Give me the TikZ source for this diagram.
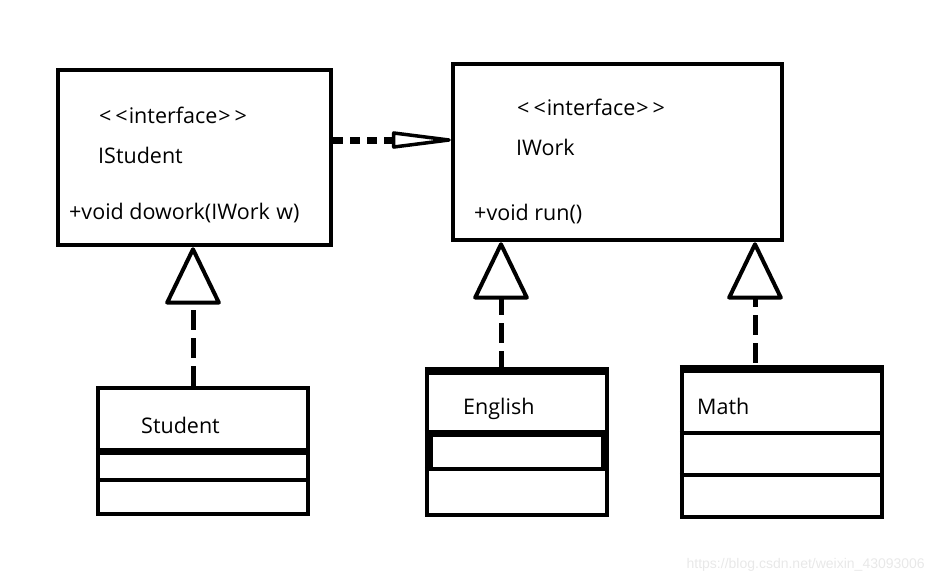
\documentclass[tikz,border=0pt]{standalone}
\usepackage{fontspec}
\setmainfont{Open Sans}
\usetikzlibrary{arrows.meta}
\begin{document}
\begin{tikzpicture}[x=1pt,y=-1pt,
  box/.style={draw, line width=4.5pt, inner sep=0pt, rectangle},
  txt/.style={anchor=base west, inner sep=0pt, font=\fontsize{21.5}{24}\selectfont},
  divider/.style={line width=4pt},
  thickdiv/.style={line width=7pt},
  realize/.style={line width=5pt, dash pattern=on 20pt off 8pt,
    -{Triangle[open, length=60pt, width=57pt, line width=4pt, round]}},
  depend/.style={line width=7pt, dash pattern=on 10pt off 7pt,
    -{Triangle[open, length=72pt, width=17pt, line width=3.5pt, round]}}
]
\useasboundingbox (0,0) rectangle (933,581);
% interfaces
\node[box, minimum width=273pt, minimum height=175pt] (istudent) at (194.5,157.5) {};
\node[box, minimum width=329pt, minimum height=176pt] (iwork) at (617.5,152) {};
\node[txt] (t1) at (99,123) {<\kern4pt<\kern1pt interface\kern1pt>\kern4pt>};
\node[txt] (t2) at (98,163) {IStudent};
\node[txt] (t3) at (69,219) {+void dowork(IWork\kern1pt\ w)};
\node[txt] (t4) at (517,115) {<\kern4pt<\kern1pt interface\kern1pt>\kern4pt>};
\node[txt] (t5) at (516,155) {IWork};
\node[txt] (t6) at (474,220) {+void run()};
% classes
\node[box, minimum width=210pt, minimum height=126pt] (student) at (203,451) {};
\node[box, minimum width=180pt, minimum height=142pt] (english) at (517,444) {};
\node[box, minimum width=200pt, minimum height=146pt] (math) at (782,444) {};
\draw[line width=7pt] (english.north west) -- (english.north east);
\draw[line width=7pt] (math.north west) -- (math.north east);
\node[txt] (t7) at (141,433) {Student};
\node[txt] (t8) at (463,414) {English};
\node[txt] (t9) at (697,414) {Math};
% compartments
\draw[thickdiv] (student.west |- 0,451) -- (student.east |- 0,451);
\draw[divider] (student.west |- 0,480) -- (student.east |- 0,480);
\draw[thickdiv] (english.west |- 0,433) -- (english.east |- 0,433);
\draw[divider] (english.west |- 0,469) -- (english.east |- 0,469);
\draw[line width=4pt] (431,433) -- (431,469);
\draw[line width=4pt] (603,433) -- (603,469);
\draw[divider] (math.west |- 0,433) -- (math.east |- 0,433);
\draw[divider] (math.west |- 0,475) -- (math.east |- 0,475);
% connectors
\draw[depend] (istudent.east |- 0,140) -- (iwork.west |- 0,140);
\draw[realize] ([xshift=-10pt]student.north) -- ([xshift=-10pt]student.north |- istudent.south);
\draw[realize] ([xshift=-16pt]english.north) -- ([xshift=-16pt]english.north |- iwork.south);
\draw[realize] ([xshift=-27pt,yshift=6pt]math.north) -- ([xshift=-27pt]math.north |- iwork.south);
% watermark
\node[anchor=base east, inner sep=0pt, text=gray!18, font=\fontspec{Liberation Sans}\fontsize{14}{16}\selectfont] (wm) at (925,568) {https://blog.csdn.net/weixin\_43093006};
\end{tikzpicture}
\end{document}
